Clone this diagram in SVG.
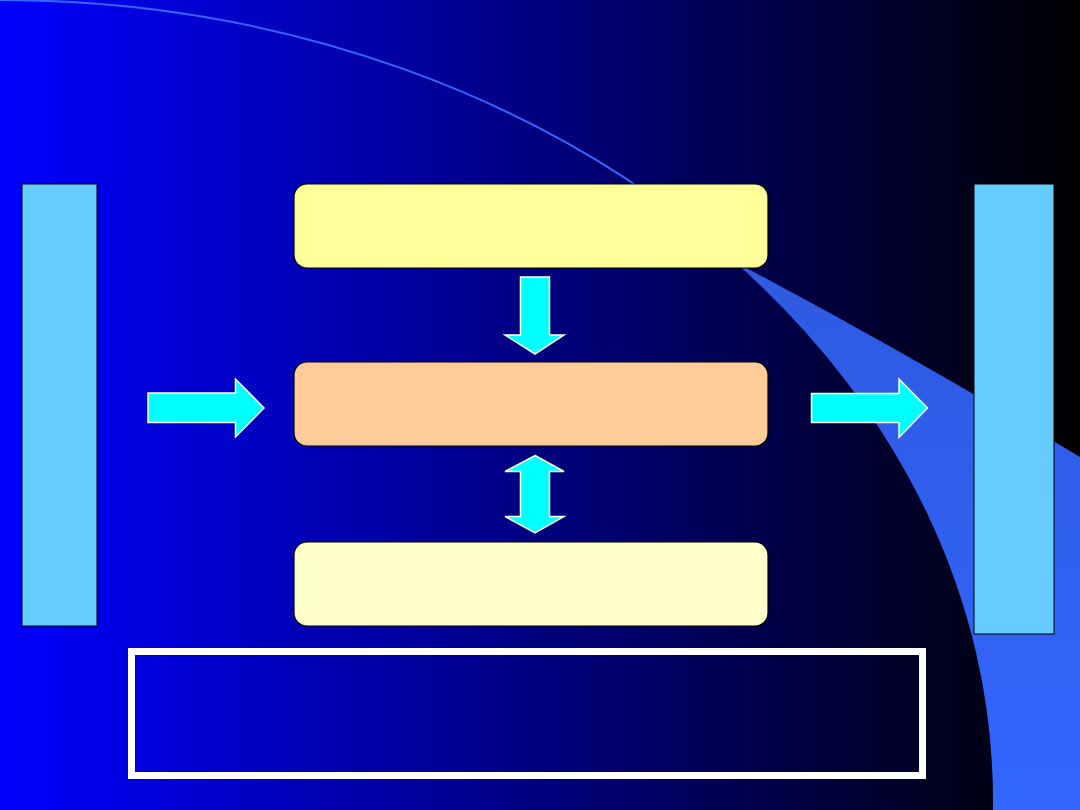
<svg xmlns="http://www.w3.org/2000/svg" width="1080" height="810" viewBox="0 0 1080 810">
  <defs>
    <linearGradient id="bg" x1="0" y1="0" x2="1" y2="0">
      <stop offset="0" stop-color="#0000FF"/>
      <stop offset="1" stop-color="#000000"/>
    </linearGradient>
    <linearGradient id="blend" x1="0" y1="0" x2="0" y2="1">
      <stop offset="0" stop-color="#2E5AE0"/>
      <stop offset="1" stop-color="#3366FF"/>
    </linearGradient>
    <style>
      .bar { fill: #66CCFF; stroke: #000000; stroke-width: 1; }
      .box { stroke: #000000; stroke-width: 1.2; }
      .arrow { fill: #00FFFF; stroke: #FFFFFF; stroke-width: 1.5; stroke-linejoin: miter; }
    </style>
  </defs>

  <!-- background -->
  <rect x="0" y="0" width="1080" height="810" fill="url(#bg)"/>
  <path d="M 0,0 A 993 800 0 0 1 735,262" fill="none" stroke="#3366FF" stroke-width="2"/>
  <path d="M 735,262 A 993 800 0 0 1 993,800 L 993,810 L 1080,810 L 1080,457 Q 907,353 735,262 Z" fill="url(#blend)"/>

  <g id="left-bar"><rect class="bar" x="22" y="184" width="75" height="442"/></g>
  <g id="right-bar"><rect class="bar" x="974" y="184" width="80" height="450"/></g>

  <g id="top-box"><rect class="box" x="294" y="184" width="474" height="84" rx="13" fill="#FFFF99"/></g>
  <g id="middle-box"><rect class="box" x="294" y="362" width="474" height="84" rx="13" fill="#FFCC99"/></g>
  <g id="bottom-box"><rect class="box" x="294" y="542" width="474" height="84" rx="13" fill="#FFFFCC"/></g>

  <g id="frame"><rect x="131.5" y="651.5" width="791" height="124" fill="none" stroke="#FFFFFF" stroke-width="7"/></g>

  <g id="connectors">
    <path class="arrow" d="M 148,393 L 235.5,393 L 235.5,379 L 264,408 L 235.5,437 L 235.5,422.5 L 148,422.5 Z"/>
    <path class="arrow" d="M 811.5,393.5 L 899,393.5 L 899,379 L 927.5,408 L 899,437.5 L 899,422.5 L 811.5,422.5 Z"/>
    <path class="arrow" d="M 520.5,277 L 549.5,277 L 549.5,335 L 564,335 L 535,354 L 505,335 L 520.5,335 Z"/>
    <path class="arrow" d="M 535,455.5 L 564,471.5 L 549.5,471.5 L 549.5,516.5 L 564,516.5 L 535,533 L 505,516.5 L 520.5,516.5 L 520.5,471.5 L 505,471.5 Z"/>
  </g>
</svg>
